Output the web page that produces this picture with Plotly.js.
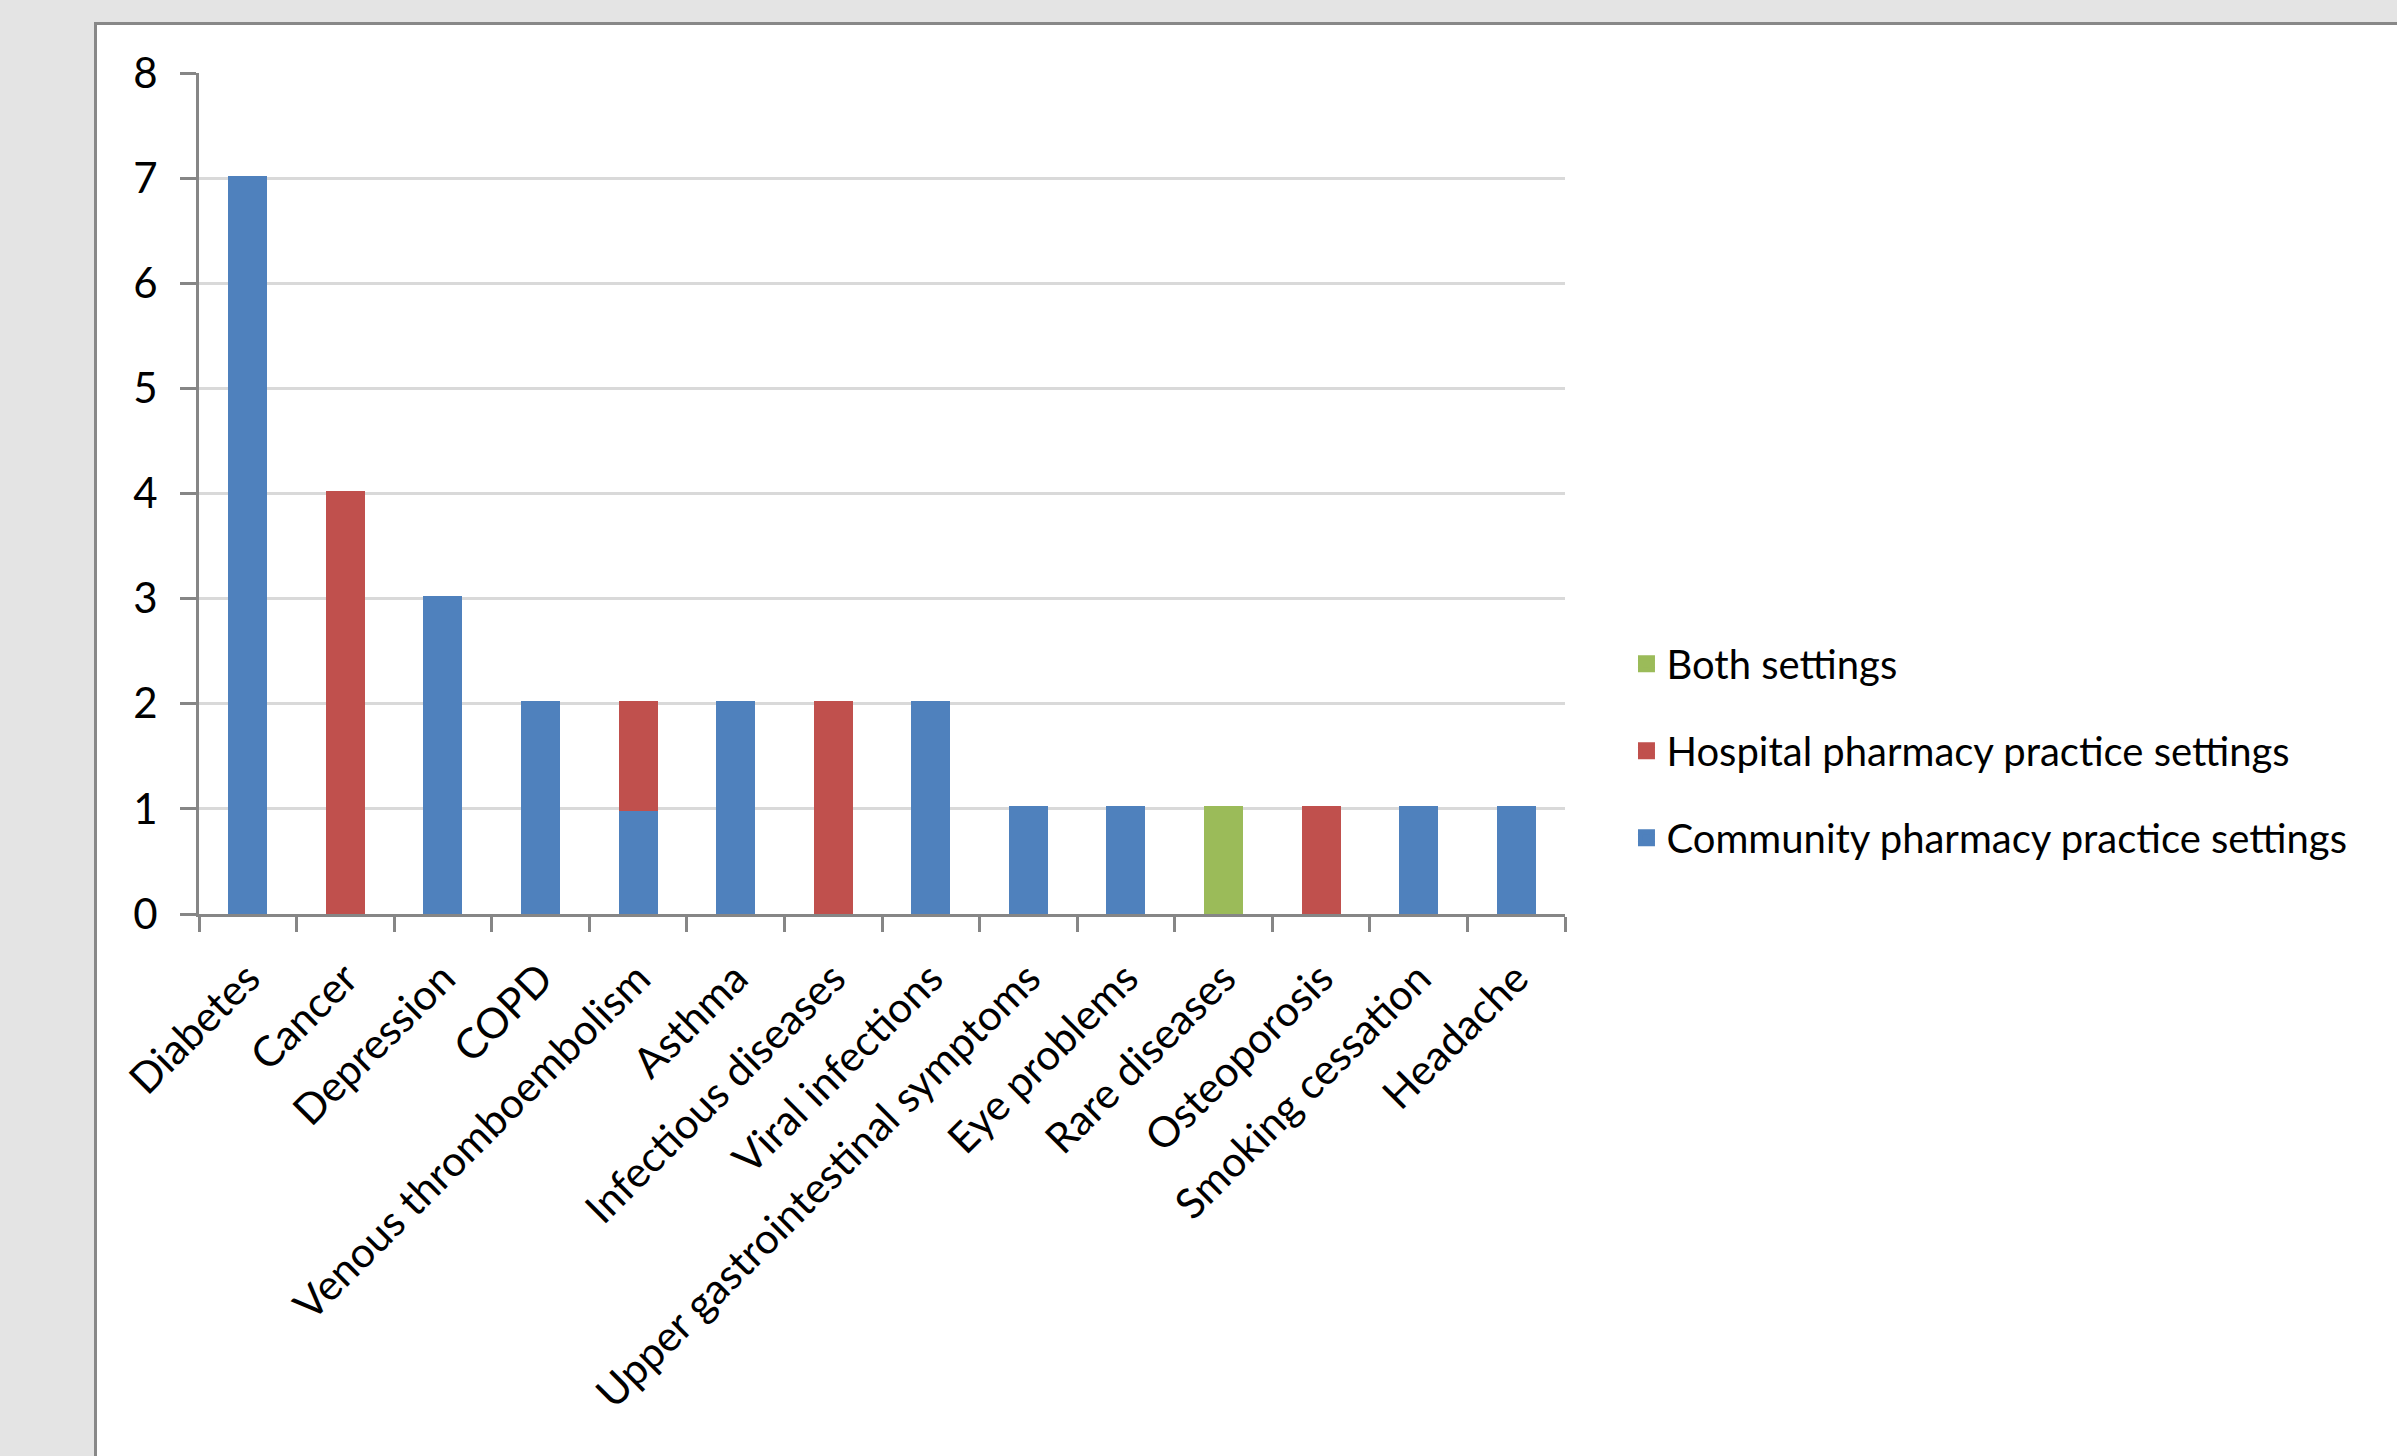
<!DOCTYPE html>
<html>
<head>
<meta charset="utf-8">
<script src="https://cdn.plot.ly/plotly-3.0.1.min.js"></script>
<style>
  html, body { margin: 0; padding: 0; background: #e4e4e4; width: 2397px; height: 1456px; overflow: hidden; }
  #frame { position: absolute; left: 94px; top: 22px; width: 2303px; height: 1434px; background: #fff;
           border-left: 3px solid #888; border-top: 3px solid #888; box-sizing: border-box; }
  #chart { width: 2300px; height: 1431px; }
</style>
</head>
<body>
<div id="frame"><div id="chart"></div></div>
<script>
const categories = ["Diabetes", "Cancer", "Depression", "COPD", "Venous thromboembolism", "Asthma",
  "Infectious diseases", "Viral infections", "Upper gastrointestinal symptoms", "Eye problems",
  "Rare diseases", "Osteoporosis", "Smoking cessation", "Headache"];
const communityValues = [7, 0, 3, 2, 1, 2, 0, 2, 1, 1, 0, 0, 1, 1];
const hospitalValues  = [0, 4, 0, 0, 1, 0, 2, 0, 0, 0, 0, 1, 0, 0];
const bothValues      = [0, 0, 0, 0, 0, 0, 0, 0, 0, 0, 1, 0, 0, 0];
const seriesNames = ["Community pharmacy practice settings", "Hospital pharmacy practice settings", "Both settings"];
const seriesColors = ["#4F81BD", "#C0504D", "#9BBB59"];
const yTicks = [0, 1, 2, 3, 4, 5, 6, 7, 8];

const FONT = "Lato, 'Open Sans', sans-serif";
const seriesValues = [communityValues, hospitalValues, bothValues];
const traces = seriesValues.map((vals, i) => ({
  type: "bar", name: seriesNames[i], x: categories,
  y: vals.map(v => (v === 0 ? null : v)),   // empty segments are not drawn
  marker: { color: seriesColors[i], line: { color: seriesColors[i], width: 5 } },
  legendgroup: "g" + i, legendrank: 3 - i
}));

const layout = {
  width: 2300, height: 1431,
  margin: { l: 102, r: 832, t: 48, b: 542, pad: 0 },
  paper_bgcolor: "#ffffff", plot_bgcolor: "#ffffff",
  barmode: "stack", bargap: 0.652,
  font: { family: FONT, size: 40, color: "#000" },
  showlegend: true,
  legend: {
    x: 1.045, xanchor: "left", y: 0.194, yanchor: "middle",
    traceorder: "grouped", tracegroupgap: 32,
    font: { family: FONT, size: 40, color: "#000" },
    bgcolor: "rgba(0,0,0,0)"
  },
  xaxis: {
    type: "category", tickangle: -45, tickson: "boundaries",
    ticks: "outside", ticklen: 15, tickwidth: 3, tickcolor: "#868686",
    showline: true, linecolor: "#868686", linewidth: 3,
    showgrid: false, zeroline: false,
    tickfont: { family: FONT, size: 42, color: "#000" },
    ticklabelstandoff: 20,
    automargin: false
  },
  yaxis: {
    range: [0, 8], tickmode: "array", tickvals: yTicks, ticktext: yTicks.map(String),
    ticks: "outside", ticklen: 16, tickwidth: 3, tickcolor: "#868686",
    showline: true, linecolor: "#868686", linewidth: 3,
    showgrid: true, gridcolor: "#d9d9d9", gridwidth: 3, zeroline: false,
    tickfont: { family: FONT, size: 42, color: "#000" },
    ticklabelstandoff: 14,
    automargin: false, fixedrange: true
  }
};

Plotly.newPlot("chart", traces, layout, { displayModeBar: false, staticPlot: true });
</script>
</body>
</html>
